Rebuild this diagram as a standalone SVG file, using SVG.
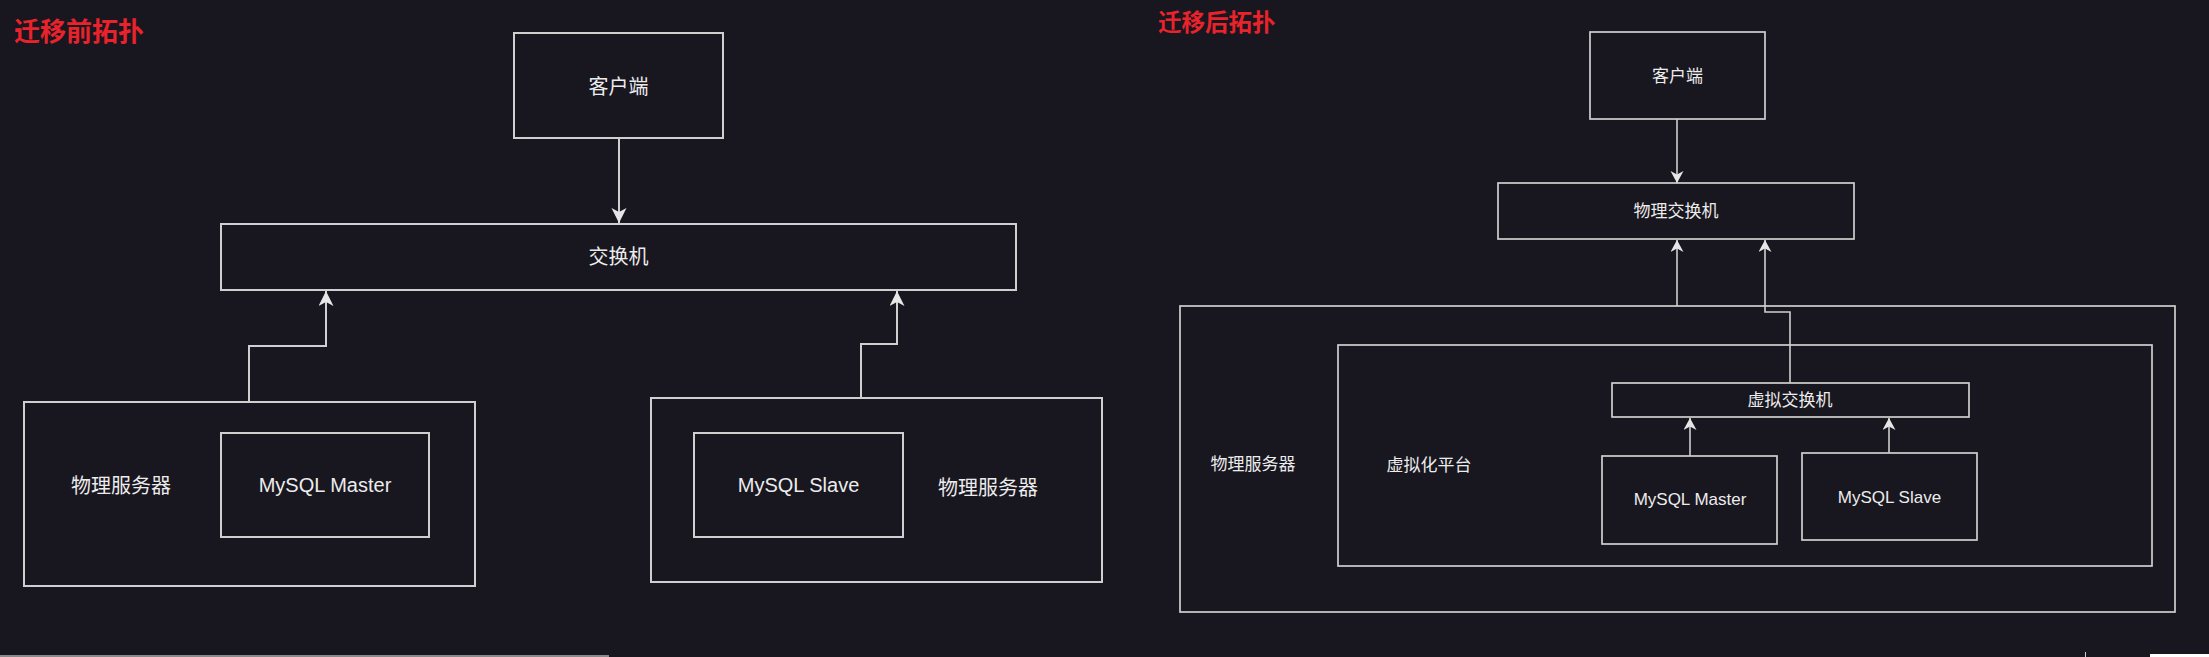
<svg xmlns="http://www.w3.org/2000/svg" width="2209" height="657" viewBox="0 0 2209 657">
<defs>
<style>
.box{fill:#18161f;stroke:#cfcfcf;stroke-width:2}
.boxr{fill:#18161f;stroke:#cfcfcf;stroke-width:1.7}
.ln{fill:none;stroke:#cfcfcf;stroke-width:2}
.lnr{fill:none;stroke:#cfcfcf;stroke-width:1.6}
.t{font-family:"Liberation Sans","Noto Sans CJK SC",sans-serif;fill:#ececec;text-anchor:middle}
.tl{font-size:20px}
.tr{font-size:17px}
.title{font-family:"Liberation Sans","Noto Sans CJK SC",sans-serif;font-weight:bold;fill:#e8232b}
</style>
<marker id="ahL" markerUnits="userSpaceOnUse" markerWidth="16" markerHeight="16" refX="15" refY="7.5" orient="auto" viewBox="0 0 16 16">
<path d="M0,0 L15,7.5 L0,15 L4,7.5 z" fill="#e6e6e6"/>
</marker>
<marker id="ahR" markerUnits="userSpaceOnUse" markerWidth="14" markerHeight="14" refX="12" refY="6.5" orient="auto" viewBox="0 0 14 14">
<path d="M0,0 L12,6.5 L0,13 L3.5,6.5 z" fill="#e6e6e6"/>
</marker>
</defs>
<rect x="0" y="0" width="2209" height="657" fill="#18161f"/>

<!-- Titles -->
<text class="title" x="14" y="41" font-size="26">迁移前拓扑</text>
<text class="title" x="1158" y="31" font-size="23.5">迁移后拓扑</text>

<!-- Left: before migration -->
<g id="client-before">
<rect class="box" x="514" y="33" width="209" height="105"/>
<text class="t tl" x="618.5" y="94">客户端</text>
</g>
<g id="switch-before">
<rect class="box" x="221" y="224" width="795" height="66"/>
<text class="t tl" x="618.5" y="264">交换机</text>
</g>
<g id="server1-before">
<rect class="box" x="24" y="402" width="451" height="184"/>
<text class="t tl" x="121" y="493">物理服务器</text>
</g>
<g id="master-before">
<rect class="box" x="221" y="433" width="208" height="104"/>
<text class="t tl" x="325" y="492">MySQL Master</text>
</g>
<g id="server2-before">
<rect class="box" x="651" y="398" width="451" height="184"/>
<text class="t tl" x="988" y="495">物理服务器</text>
</g>
<g id="slave-before">
<rect class="box" x="694" y="433" width="209" height="104"/>
<text class="t tl" x="798.5" y="492">MySQL Slave</text>
</g>

<!-- Right: after migration -->
<g id="client-after">
<rect class="boxr" x="1590" y="32" width="175" height="87"/>
<text class="t tr" x="1677.5" y="82">客户端</text>
</g>
<g id="pswitch-after">
<rect class="boxr" x="1498" y="183" width="356" height="56"/>
<text class="t tr" x="1676" y="217">物理交换机</text>
</g>
<g id="server-after">
<rect class="boxr" x="1180" y="306" width="995" height="306"/>
<text class="t tr" x="1253" y="470">物理服务器</text>
</g>
<g id="virt-platform">
<rect class="boxr" x="1338" y="345" width="814" height="221"/>
<text class="t tr" x="1429" y="471">虚拟化平台</text>
</g>
<g id="vswitch">
<rect class="boxr" x="1612" y="383" width="357" height="34"/>
<text class="t tr" x="1790" y="406">虚拟交换机</text>
</g>
<g id="master-after">
<rect class="boxr" x="1602" y="456" width="175" height="88"/>
<text class="t tr" x="1690" y="505">MySQL Master</text>
</g>
<g id="slave-after">
<rect class="boxr" x="1802" y="453" width="175" height="87"/>
<text class="t tr" x="1889.5" y="503">MySQL Slave</text>
</g>

<!-- Connectors -->
<g id="connectors">
<path class="ln" d="M619,138 L619,223" marker-end="url(#ahL)"/>
<path class="ln" d="M249,402 L249,346 L326,346 L326,291" marker-end="url(#ahL)"/>
<path class="ln" d="M861,398 L861,344 L897,344 L897,291" marker-end="url(#ahL)"/>
<path class="lnr" d="M1677,119 L1677,183" marker-end="url(#ahR)"/>
<path class="lnr" d="M1677,306 L1677,240" marker-end="url(#ahR)"/>
<path class="lnr" d="M1790,383 L1790,312 L1765,312 L1765,240" marker-end="url(#ahR)"/>
<path class="lnr" d="M1690,456 L1690,418" marker-end="url(#ahR)"/>
<path class="lnr" d="M1889,453 L1889,418" marker-end="url(#ahR)"/>
</g>

<!-- screenshot edge artifacts -->
<rect x="0" y="655" width="609" height="2" fill="#8a8a8a"/>
<rect x="2085" y="652" width="1" height="5" fill="#cfcfcf"/>
<rect x="2150" y="654" width="59" height="3" fill="#ffffff"/>
</svg>
